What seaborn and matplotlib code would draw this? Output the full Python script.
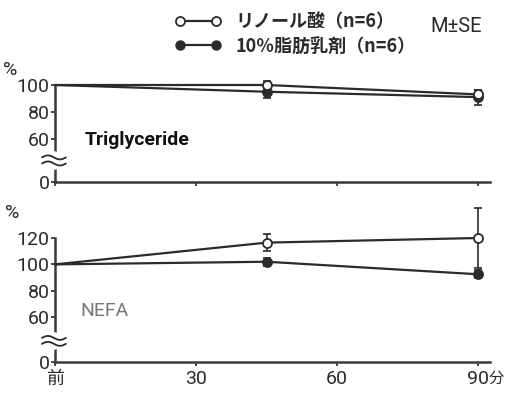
import numpy as np
import pandas as pd
import matplotlib
matplotlib.use("Agg")
import matplotlib.pyplot as plt
from matplotlib.lines import Line2D
import seaborn as sns

# data (percent of pre value)
times = [0, 45, 90]
labels = ["リノール酸（n=6）", "10％脂肪乳剤（n=6）"]

tg_lino = [100, 100, 93]
tg_lino_se = [0, 3, 3]
tg_fat = [100, 95, 91]
tg_fat_se = [0, 5, 5.5]

nefa_lino = [100, 116.5, 120]
nefa_lino_se = [0, 6.5, 23]
nefa_fat = [100, 102, 92.5]
nefa_fat_se = [0, 3, 3]

xticks = [0, 30, 60, 90]
xticklabels = ["前", "30", "60", "90"]

sns.set_style("ticks")
plt.rcParams["font.family"] = ["Roboto", "Noto Sans CJK JP", "DejaVu Sans"]
ink = "#2b2b2b"

fig = plt.figure(figsize=(5.06, 3.97), dpi=100)
ax1 = fig.add_axes([55/506, 1-182/397, 435/506, (182-85)/397])
ax2 = fig.add_axes([55/506, 1-362/397, 435/506, (362-238)/397])


def draw(ax, lino, lino_se, fat, fat_se):
    df = pd.DataFrame({"time": times, "lino": lino, "fat": fat})
    for col, se, fc in [("fat", fat_se, ink), ("lino", lino_se, "white")]:
        sns.lineplot(data=df, x="time", y=col, ax=ax, color=ink, lw=1.6,
                     marker="o", markersize=6.5, markerfacecolor=fc,
                     markeredgecolor=ink, markeredgewidth=1.3, markevery=[1, 2],
                     clip_on=False, zorder=4)
        ax.errorbar(times[1:], df[col][1:], yerr=se[1:], fmt="none",
                    ecolor=ink, elinewidth=1.2, capsize=3, capthick=1.2,
                    clip_on=False, zorder=3)


def break_mark(ax, y0, amp):
    tr = ax.get_yaxis_transform()
    ax.plot([0, 0], [y0 - 3.0*amp, y0 + 3.0*amp], color="white", lw=4,
            transform=tr, clip_on=False, zorder=5)
    xs = np.linspace(-0.03, 0.025, 30)
    for dy in (-1.5*amp, 1.5*amp):
        ax.plot(xs, y0 + dy + amp*np.sin((xs + 0.03) / 0.055 * 2*np.pi),
                color=ink, lw=1.3, transform=tr, clip_on=False, zorder=6)


draw(ax1, tg_lino, tg_lino_se, tg_fat, tg_fat_se)
draw(ax2, nefa_lino, nefa_lino_se, nefa_fat, nefa_fat_se)

ax1.set_ylim(28, 100)
ax1.set_yticks([28, 60, 80, 100])
ax1.set_yticklabels(["0", "60", "80", "100"])
ax2.set_ylim(26, 120)
ax2.set_yticks([26, 60, 80, 100, 120])
ax2.set_yticklabels(["0", "60", "80", "100", "120"])

for ax in (ax1, ax2):
    ax.set_xlim(0, 92.5)
    ax.set_xticks(xticks)
    ax.set_xlabel("")
    ax.set_ylabel("")
    sns.despine(ax=ax)
    for s in ("left", "bottom"):
        ax.spines[s].set_linewidth(1.8)
        ax.spines[s].set_color("#3a3a3a")
    ax.tick_params(length=3, width=1.3, color="#3a3a3a", labelcolor=ink,
                   labelsize=14, pad=1)

ax1.set_xticklabels([])
ax2.set_xticklabels(xticklabels)
ax2.tick_params(axis="x", pad=3)
ax2.get_xticklabels()[0].set_fontfamily(["Noto Sans CJK JP"])
ax2.get_xticklabels()[0].set_fontsize(13)
ax2.text(92.2, -0.06, "分", transform=ax2.get_xaxis_transform(), fontsize=11,
         color=ink, va="top", ha="left", family=["Noto Sans CJK JP"])

break_mark(ax1, 44, 1.5)
break_mark(ax2, 42, 1.5)

ax1.text(6.3, 59, "Triglyceride", fontsize=14, fontweight="bold",
         color="#111111", va="center")
ax2.text(5.3, 64.5, "NEFA", fontsize=14, color="#777777", va="center")

fig.text(3/506, 1-70/397, "%", fontsize=14, color=ink, va="center")
fig.text(5/506, 1-213/397, "%", fontsize=14, color=ink, va="center")
fig.text(430/506, 1-26/397, "M±SE", fontsize=14.5, color=ink, va="center")

handles = [
    Line2D([], [], color=ink, lw=1.6, marker="o", markersize=6.5,
           markerfacecolor="white", markeredgecolor=ink, markeredgewidth=1.3),
    Line2D([], [], color=ink, lw=1.6, marker="o", markersize=6.5,
           markerfacecolor=ink, markeredgecolor=ink),
]
fig.legend(handles, labels, loc="upper left", bbox_to_anchor=(158/506, 1.01),
           frameon=False, numpoints=2, handlelength=2.6, handletextpad=0.8,
           labelspacing=0.3, labelcolor=ink,
           prop={"family": ["Noto Sans CJK JP", "DejaVu Sans"], "size": 13,
                 "weight": "bold"})

fig.savefig("out.png", dpi=100)
